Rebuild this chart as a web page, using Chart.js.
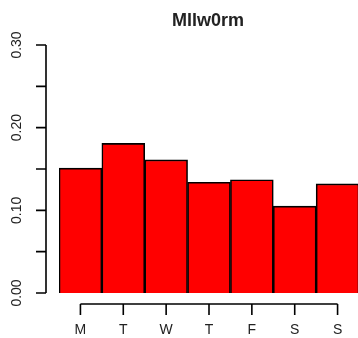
<!DOCTYPE html>
<html>
<head>
<meta charset="utf-8">
<script src="https://cdn.jsdelivr.net/npm/chart.js@4"></script>
<style>
  html, body { margin: 0; padding: 0; background: #fff; overflow: hidden; }
  #wrap { width: 358px; height: 338px; overflow: hidden; }
</style>
</head>
<body>
<div id="wrap"><canvas id="c" width="380" height="338"></canvas></div>
<script>
// данные графика
const chartTitle = 'Mllw0rm';
const days = ['M', 'T', 'W', 'T', 'F', 'S', 'S'];
const values = [0.151, 0.181, 0.161, 0.134, 0.137, 0.105, 0.132];
const yTicks = [0, 0.05, 0.10, 0.15, 0.20, 0.25, 0.30];
const yTickLabels = ['0.00', '', '0.10', '', '0.20', '', '0.30'];

const font = '"Liberation Sans", Arial, sans-serif';

// оси в стиле R рисуем сами, через шкалы Chart.js
const rAxes = {
    id: 'rAxes',
    afterDraw(chart) {
        const ctx = chart.ctx;
        const x = chart.scales.x;
        const y = chart.scales.y;
        ctx.save();
        ctx.strokeStyle = '#000';
        ctx.lineWidth = 1.6;
        ctx.fillStyle = '#222';

        // ось Y
        const axX = 46;
        ctx.beginPath();
        ctx.moveTo(axX, y.getPixelForValue(yTicks[0]));
        ctx.lineTo(axX, y.getPixelForValue(yTicks[yTicks.length - 1]));
        yTicks.forEach(v => {
            const py = y.getPixelForValue(v);
            ctx.moveTo(axX, py);
            ctx.lineTo(axX - 10, py);
        });
        ctx.stroke();
        ctx.font = '14px ' + font;
        ctx.textAlign = 'center';
        ctx.textBaseline = 'middle';
        yTicks.forEach((v, i) => {
            if (!yTickLabels[i]) return;
            const py = y.getPixelForValue(v);
            ctx.save();
            ctx.translate(17, py);
            ctx.rotate(-Math.PI / 2);
            ctx.fillText(yTickLabels[i], 0, 0);
            ctx.restore();
        });

        // ось X
        const axY = 304;
        ctx.beginPath();
        ctx.moveTo(x.getPixelForValue(0), axY);
        ctx.lineTo(x.getPixelForValue(days.length - 1), axY);
        days.forEach((d, i) => {
            const px = x.getPixelForValue(i);
            ctx.moveTo(px, axY);
            ctx.lineTo(px, axY + 11);
        });
        ctx.stroke();
        days.forEach((d, i) => {
            ctx.fillText(d, x.getPixelForValue(i), 330);
        });

        // заголовок
        ctx.font = 'bold 18px ' + font;
        ctx.fillText(chartTitle, 208, 21);
        ctx.restore();
    }
};

new Chart(document.getElementById('c'), {
    type: 'bar',
    data: {
        labels: days,
        datasets: [{
            data: values,
            backgroundColor: '#ff0000',
            borderColor: '#000',
            borderWidth: 1.6,
            barPercentage: 1,
            categoryPercentage: 1
        }]
    },
    options: {
        responsive: false,
        animation: false,
        devicePixelRatio: 1,
        layout: { padding: { left: 59, right: 21, top: 45, bottom: 45 } },
        plugins: { legend: { display: false }, tooltip: { enabled: false } },
        scales: {
            x: { display: false, offset: true },
            y: { display: false, min: 0, max: 0.30 }
        }
    },
    plugins: [rAxes]
});
</script>
</body>
</html>
